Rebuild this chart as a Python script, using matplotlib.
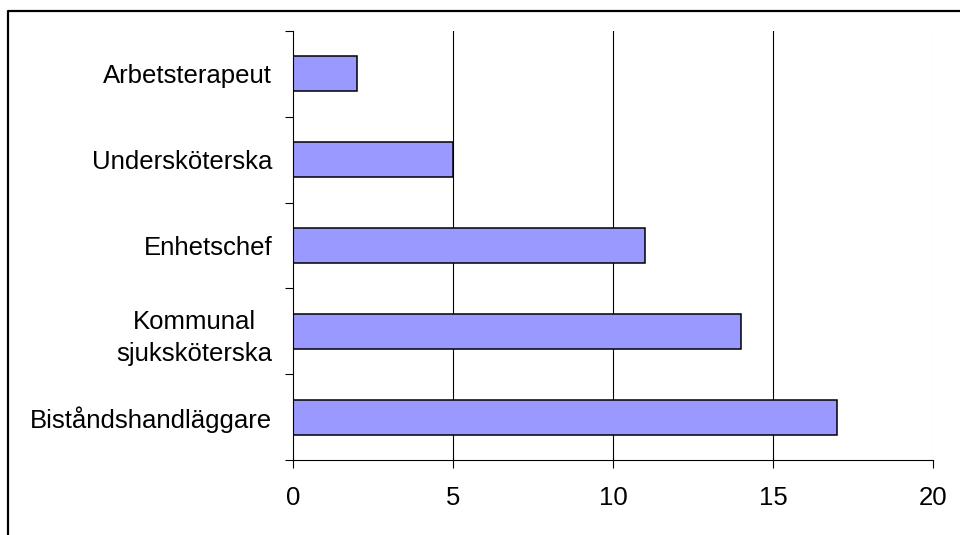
import matplotlib
matplotlib.use("Agg")
import matplotlib.pyplot as plt
from matplotlib.lines import Line2D

plt.rcParams['font.family'] = ['Liberation Sans', 'DejaVu Sans']

# Categories listed bottom to top
categories = ["Biståndshandläggare", "Kommunal\nsjuksköterska", "Enhetschef",
              "Undersköterska", "Arbetsterapeut"]
values = [17, 14, 11, 5, 2]
x_ticks = [0, 5, 10, 15, 20]

fig = plt.figure(figsize=(9.6, 5.35), dpi=100)
ax = fig.add_axes([293 / 960, 75 / 535, 640 / 960, 429 / 535])

pos = list(range(len(categories)))
ax.barh(pos, values, height=0.41, color="#9999FF", edgecolor="black",
        linewidth=1.1, zorder=3)

ax.set_xlim(0, 20)
ax.set_ylim(-0.5, len(categories) - 0.5)

# Vertical grid: dark lines inside, faint line at the far end
for xv in x_ticks[1:-1]:
    ax.axvline(xv, color="black", linewidth=0.8, zorder=1)
ax.axvline(x_ticks[-1], color="#dddddd", linewidth=0.8, zorder=1)

ax.set_xticks(x_ticks)
ax.set_xticklabels([str(v) for v in x_ticks], fontsize=18.5)
ax.tick_params(axis="x", direction="out", length=5.5, width=0.8, pad=13)

# Ticks at category boundaries, labels at category centres
ax.set_yticks([p - 0.5 for p in pos] + [len(categories) - 0.5])
ax.set_yticklabels([])
ax.set_yticks(pos, minor=True)
ax.set_yticklabels(categories, minor=True, fontsize=18.5)
ax.tick_params(axis="y", which="major", direction="out", length=6, width=0.8)
ax.tick_params(axis="y", which="minor", length=0, pad=15)
for lbl in ax.get_yticklabels(minor=True):
    lbl.set_multialignment("center")
    lbl.set_linespacing(1.45)

for side in ("top", "right"):
    ax.spines[side].set_visible(False)
for side in ("left", "bottom"):
    ax.spines[side].set_linewidth(0.8)
    ax.spines[side].set_zorder(4)

# Outer frame around the chart area
fx = 7.5 / 960
fy = 1 - 10.5 / 535
fig.add_artist(Line2D([fx, fx, 1.01], [-0.01, fy, fy], color="black",
                      linewidth=1.6, transform=fig.transFigure))

fig.savefig("out.png", dpi=100)
